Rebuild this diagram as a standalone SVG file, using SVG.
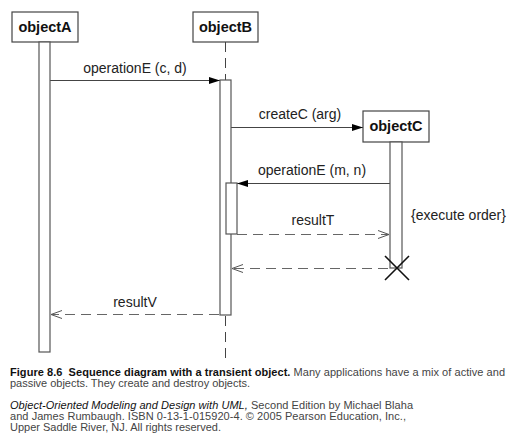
<svg xmlns="http://www.w3.org/2000/svg" width="518" height="447" viewBox="0 0 518 447">
<defs>
<marker id="filled" markerWidth="12" markerHeight="8" refX="11" refY="4" orient="auto" markerUnits="userSpaceOnUse">
<path d="M0,0.5 L11,4 L0,7.5 Z" fill="#000"/>
</marker>
<marker id="open" markerWidth="12" markerHeight="10" refX="11" refY="5" orient="auto" markerUnits="userSpaceOnUse">
<path d="M0,1 L11,5 L0,9" fill="none" stroke="#555" stroke-width="1"/>
</marker>
</defs>
<style>
.box{fill:#fff;stroke:#444;stroke-width:1.2}
.act{fill:#fff;stroke:#555;stroke-width:1.2}
.life{stroke:#444;stroke-width:1;stroke-dasharray:10,6;fill:none}
.name{font-family:"Liberation Sans",Arial,sans-serif;font-weight:bold;font-size:14.5px;fill:#111;text-anchor:middle}
.lbl{font-family:"Liberation Sans",Arial,sans-serif;font-size:14px;fill:#222}
.call{stroke:#444;stroke-width:1;fill:none;marker-end:url(#filled)}
.ret{stroke:#666;stroke-width:1.2;stroke-dasharray:10,6;fill:none;marker-end:url(#open)}
.cap{font-family:"Liberation Sans",Arial,sans-serif;font-size:11px;fill:#444}
</style>
<rect width="518" height="447" fill="#fff"/>
<g id="connectors">
<line class="life" x1="225.5" y1="42" x2="225.5" y2="80"/>
<line class="life" x1="225.5" y1="316" x2="225.5" y2="362"/>
<line class="call" x1="50" y1="80.5" x2="220" y2="80.5"/>
<text class="lbl" x="135" y="73" text-anchor="middle">operationE (c, d)</text>
<line class="call" x1="231" y1="127.5" x2="363" y2="127.5"/>
<text class="lbl" x="300" y="119" text-anchor="middle">createC (arg)</text>
<line class="call" x1="390" y1="183.5" x2="237" y2="183.5"/>
<text class="lbl" x="312" y="175" text-anchor="middle">operationE (m, n)</text>
<line class="ret" x1="237" y1="234.5" x2="389" y2="234.5"/>
<text class="lbl" x="313" y="225" text-anchor="middle">resultT</text>
<line class="ret" x1="388" y1="268.5" x2="232" y2="268.5"/>
<line class="ret" x1="219" y1="314.5" x2="51" y2="314.5"/>
<text class="lbl" x="135" y="307" text-anchor="middle">resultV</text>
</g>
<g id="objectA">
<rect class="box" x="12" y="12" width="66" height="30"/>
<text class="name" x="45" y="32">objectA</text>
<rect class="act" x="39" y="42" width="11" height="310"/>
</g>
<g id="objectB">
<rect class="box" x="193" y="12" width="65" height="30"/>
<text class="name" x="225.5" y="32">objectB</text>
<rect class="act" x="220" y="80" width="11" height="235"/>
<rect class="act" x="226" y="183" width="11" height="51"/>
</g>
<g id="objectC">
<rect class="box" x="363" y="111" width="66" height="31"/>
<text class="name" x="396" y="131">objectC</text>
<rect class="act" x="390" y="142" width="12" height="126"/>
<path d="M385,256 L409,280 M409,256 L385,280" stroke="#111" stroke-width="1.6" fill="none"/>
<text class="lbl" x="411" y="220">{execute order}</text>
</g>
<g id="caption">
<text class="cap" x="10" y="376" textLength="495" lengthAdjust="spacing"><tspan font-weight="bold" fill="#111">Figure 8.6&#160; Sequence diagram with a transient object.</tspan> Many applications have a mix of active and</text>
<text class="cap" x="10" y="387" textLength="240" lengthAdjust="spacing">passive objects. They create and destroy objects.</text>
<text class="cap" x="10" y="409" textLength="403" lengthAdjust="spacing"><tspan font-style="italic" fill="#111">Object-Oriented Modeling and Design with UML,</tspan> Second Edition by Michael Blaha</text>
<text class="cap" x="10" y="420" textLength="396" lengthAdjust="spacing">and James Rumbaugh. ISBN 0-13-1-015920-4. © 2005 Pearson Education, Inc.,</text>
<text class="cap" x="10" y="431" textLength="211" lengthAdjust="spacing">Upper Saddle River, NJ. All rights reserved.</text>
</g>
</svg>
